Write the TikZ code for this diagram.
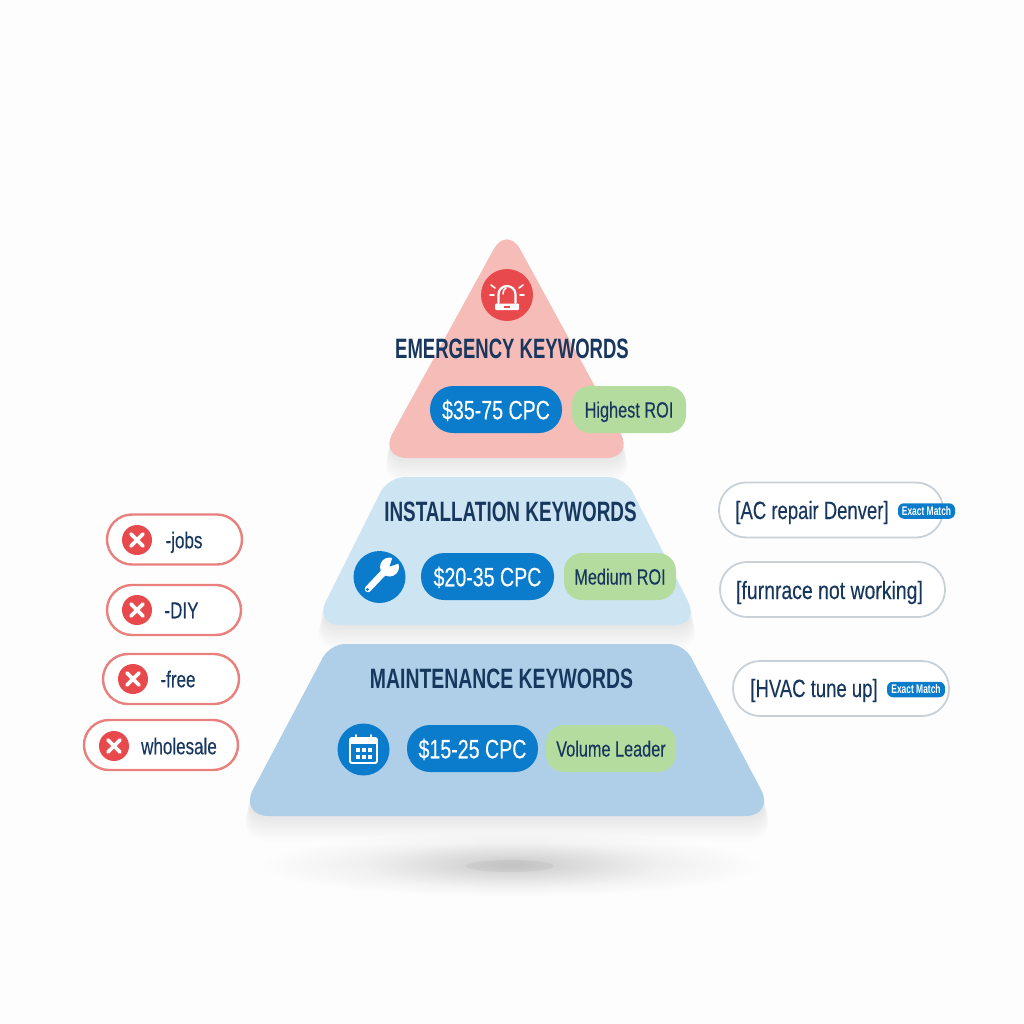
\documentclass[tikz,border=0pt]{standalone}
\usepackage{fontspec}
\setmainfont{Liberation Sans}
\newfontfamily\cond[FakeStretch=0.74,FakeBold=0.25]{Liberation Sans}
\newfontfamily\condb[FakeStretch=0.675]{Liberation Sans Bold}
\definecolor{navy}{HTML}{17375E}
\definecolor{pblue}{HTML}{0A7CCB}
\definecolor{pgreen}{HTML}{B5DC9F}
\definecolor{pred}{HTML}{E8494D}
\definecolor{lred}{HTML}{F6BDB8}
\definecolor{lmid}{HTML}{CDE4F3}
\definecolor{lbot}{HTML}{AECFE7}
\definecolor{redline}{HTML}{E8807D}
\definecolor{greyline}{HTML}{C9D0D6}
\definecolor{bgc}{HTML}{FDFDFD}
\tikzset{
  x=1pt,y=-1pt,
  title/.style={text=navy,inner sep=0pt,text height=20pt,text depth=0pt,font=\condb\fontsize{28}{30}\selectfont},
  bluepill/.style={fill=pblue,text=white,rounded corners=23pt,inner sep=0pt,minimum height=47pt,text height=19.5pt,text depth=0pt,font=\cond\fontsize{26.5}{30}\selectfont},
  greenpill/.style={fill=pgreen,text=navy,rounded corners=18pt,inner sep=0pt,minimum height=47pt,text height=16pt,text depth=0pt,font=\cond\fontsize{22}{26}\selectfont},
  iconred/.style={circle,fill=pred,minimum size=52pt,inner sep=0pt},
  iconblue/.style={circle,fill=pblue,minimum size=52pt,inner sep=0pt},
  negpill/.style={draw=redline,line width=2.4pt,fill=white,rounded corners=25pt,inner sep=0pt,minimum height=50pt},
  kwpill/.style={draw=greyline,line width=1.8pt,fill=white,rounded corners=27pt,inner sep=0pt,minimum height=55pt},
  negicon/.style={circle,fill=pred,minimum size=30pt,inner sep=0pt},
  kwtext/.style={text=navy,inner sep=0pt,text height=18pt,text depth=0pt,font=\cond\fontsize{25}{28}\selectfont},
  negtext/.style={text=navy,inner sep=0pt,text height=16.5pt,text depth=0pt,font=\cond\fontsize{23}{26}\selectfont},
  badge/.style={fill=pblue,text=white,rounded corners=6pt,inner sep=0pt,minimum height=15.5pt,font=\condb\fontsize{12.5}{14}\selectfont},
  whiteline/.style={draw=white,line cap=round,line join=round},
  softlayer/.style={transparency group,opacity=0.0055}
}
\newcommand{\softshape}[1]{%
  \foreach \s in {1,2,...,22}{%
    \begin{scope}[softlayer,shift={(0,\s)}]
      \pgfmathsetmacro{\lw}{\s*0.35}
      \filldraw[black,line width=\lw pt,line join=round] #1;
    \end{scope}}}
\newcommand{\negcross}[1]{%
  \draw[whiteline,line width=3.6pt] ([shift={(-6,-6)}]#1.center) -- ([shift={(6,6)}]#1.center);
  \draw[whiteline,line width=3.6pt] ([shift={(-6,6)}]#1.center) -- ([shift={(6,-6)}]#1.center);}
\begin{document}
\begin{tikzpicture}
\useasboundingbox (0,0) rectangle (1024,1024);
\fill[bgc] (0,0) rectangle (1024,1024);
% ground shadow
\foreach \r in {8,16,...,248}{
  \pgfmathsetmacro{\ry}{\r*0.125+1}
  \fill[black,opacity=0.0035] (512,865) ellipse [x radius=\r,y radius=\ry];}
\foreach \r in {8,16,...,150}{
  \pgfmathsetmacro{\ry}{\r*0.15+1}
  \fill[black,opacity=0.005] (512,865) ellipse [x radius=\r,y radius=\ry];}
\fill[black,opacity=0.04] (510,866) ellipse [x radius=44,y radius=6];
% shadows
\softshape{[rounded corners=28pt] (239,816) -- (330,644) -- (684,644) -- (775,816) -- cycle}
\softshape{[rounded corners=24pt] (314,625) -- (388,477) -- (625,477) -- (700,625) -- cycle}
\softshape{[rounded corners=28pt] (379,458) -- (507,225) -- (634,458) -- cycle}
% layers
\fill[lbot,rounded corners=30pt] (239,816) [rounded corners=15pt] -- (330,644) -- (684,644) [rounded corners=30pt] -- (775,816) -- cycle;
\fill[lmid,rounded corners=26pt] (314,625) [rounded corners=17pt] -- (388,477) -- (625,477) [rounded corners=26pt] -- (700,625) -- cycle;
\fill[lred,rounded corners=28pt] (379,458) -- (507,225) -- (634,458) -- cycle;
% top tier
\node[iconred] (alarm) at (507,295) {};
\node[title] (t1) at (512,348) {\scalebox{0.98}[1]{EMERGENCY KEYWORDS}};
\node[bluepill,minimum width=132pt] (c1) at (496,409.5) {\$35-75 CPC};
\node[greenpill,minimum width=114pt] (g1) at (629,409.5) {Highest ROI};
% alarm icon
\fill[white,rounded corners=1pt] (495,303.5) rectangle (519,310);
\fill[pred] (504,306) rectangle (510,308);
\draw[whiteline,line width=2.2pt] (498.5,303) -- (498.5,294.5) arc[start angle=180,end angle=360,radius=8.5] -- (515.5,303);
\draw[whiteline,line width=1.5pt] (503,294) .. controls (503,291) and (504,289) .. (506,288);
\draw[whiteline,line width=1.6pt] (491,285) -- (495,288);
\draw[whiteline,line width=1.6pt] (523,285) -- (519,288);
\draw[whiteline,line width=1.6pt] (490,295) -- (494,295);
\draw[whiteline,line width=1.6pt] (520,295) -- (524,295);
% middle tier
\node[iconblue] (wrench) at (379.5,577) {};
\node[title] (t2) at (510.5,511) {INSTALLATION KEYWORDS};
\node[bluepill,minimum width=133pt] (c2) at (487.5,576.5) {\$20-35 CPC};
\node[greenpill,minimum width=112pt] (g2) at (620,576.5) {Medium ROI};
% wrench icon
\draw[whiteline,line width=6.5pt] (368,589) -- (385,571);
\fill[white] (389.5,567) circle[radius=9.5];
\fill[pblue] (389.5,566.5) -- (393,556) -- (400,563) -- cycle;
\fill[pblue] (367.5,589.5) circle[radius=1.7];
% bottom tier
\node[iconblue] (cal) at (363.5,749.5) {};
\node[title] (t3) at (501.5,678) {\scalebox{1.027}[1]{MAINTENANCE KEYWORDS}};
\node[bluepill,minimum width=131pt] (c3) at (472.5,748.5) {\$15-25 CPC};
\node[greenpill,minimum width=130pt] (g3) at (611,748.5) {Volume Leader};
% calendar icon
\draw[white,line width=1.8pt,rounded corners=1.5pt] (350,738) rectangle (377,763);
\fill[white] (350,738) rectangle (377,743.5);
\draw[whiteline,line width=2pt] (356,735) -- (356,739);
\draw[whiteline,line width=2pt] (371,735) -- (371,739);
\foreach \px in {355.5,361.5,367.5}{\foreach \py in {748,755}{
  \fill[white] (\px,\py) rectangle ++(4,4);}}
% negative pills
\node[negpill,minimum width=135pt] (n1) at (174.5,539.5) {};
\node[negicon] (x1) at (137,540) {};
\negcross{x1}
\node[negtext] (nt1) at (184,540) {-jobs};
\node[negpill,minimum width=134pt] (n2) at (174,610) {};
\node[negicon] (x2) at (137,610) {};
\negcross{x2}
\node[negtext] (nt2) at (181.5,610) {-DIY};
\node[negpill,minimum width=136pt] (n3) at (171,679) {};
\node[negicon] (x3) at (133,679) {};
\negcross{x3}
\node[negtext] (nt3) at (178,679) {-free};
\node[negpill,minimum width=154pt] (n4) at (161,745) {};
\node[negicon] (x4) at (114,746) {};
\negcross{x4}
\node[negtext] (nt4) at (179,746) {wholesale};
% keyword pills
\node[kwpill,minimum width=224pt] (k1) at (831,510) {};
\node[kwtext] (kt1) at (812,510) {[AC repair Denver]};
\node[badge,minimum width=57pt] (b1) at (926.5,511) {Exact Match};
\node[kwpill,minimum width=225pt] (k2) at (832.5,589.5) {};
\node[kwtext] (kt2) at (829.5,590) {\scalebox{1.05}[1]{[furnrace not working]}};
\node[kwpill,minimum width=216pt] (k3) at (841,688.5) {};
\node[kwtext] (kt3) at (814,688) {[HVAC tune up]};
\node[badge,minimum width=58pt] (b3) at (916,689.5) {Exact Match};
\end{tikzpicture}
\end{document}
